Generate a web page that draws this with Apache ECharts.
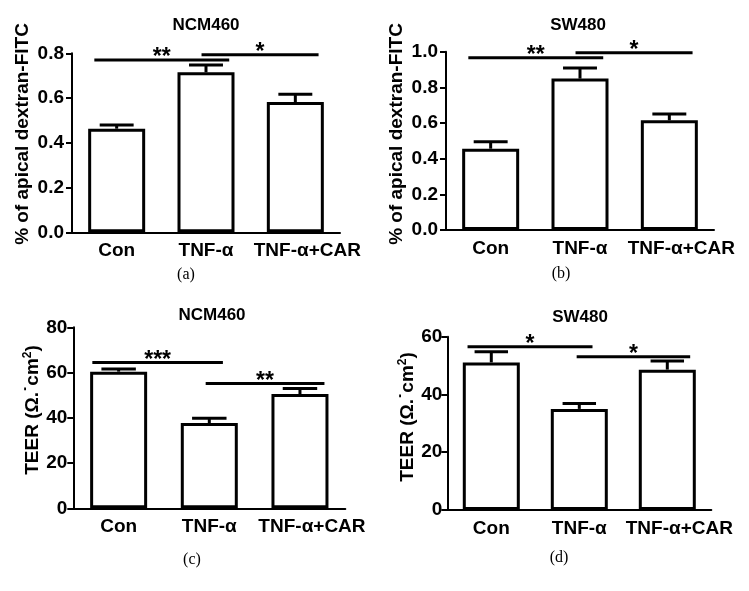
<!DOCTYPE html>
<html>
<head>
<meta charset="utf-8">
<script src="https://cdn.jsdelivr.net/npm/echarts@6/dist/echarts.min.js"></script>
<style>html,body{margin:0;padding:0;background:#fff;}#c{width:749px;height:591px;}</style>
</head>
<body>
<div id="c"></div>
<script>
const categories = ['Con', 'TNF-α', 'TNF-α+CAR'];
// Panel (a) NCM460 dextran-FITC
const meanA = [0.463, 0.715, 0.582];
const semA = [0.017, 0.033, 0.035];
// Panel (b) SW480 dextran-FITC
const meanB = [0.456, 0.849, 0.615];
const semB = [0.039, 0.060, 0.036];
// Panel (c) NCM460 TEER
const meanC = [60.4, 37.7, 50.5];
const semC = [1.2, 2.1, 2.5];
// Panel (d) SW480 TEER
const meanD = [51.1, 35.0, 48.6];
const semD = [3.7, 1.9, 3.0];
// significance brackets: [from (category pos), to (category pos), y value, label]
const sigA = [[-0.25, 1.26, 0.770, '**'], [0.95, 2.26, 0.794, '*']];
const sigB = [[-0.25, 1.26, 0.966, '**'], [0.95, 2.26, 0.994, '*']];
const sigC = [[-0.29, 1.15, 64.4, '***'], [0.96, 2.27, 55.2, '**']];
const sigD = [[-0.27, 1.15, 56.5, '*'], [0.97, 2.26, 53.1, '*']];
// y-axis ticks
const yTicksA = {max: 0.8, interval: 0.2};
const yTicksB = {max: 1.0, interval: 0.2};
const yTicksC = {max: 80, interval: 20};
const yTicksD = {max: 60, interval: 20};
const titles = ['NCM460', 'SW480', 'NCM460', 'SW480'];
const panelLabels = ['(a)', '(b)', '(c)', '(d)'];

const FF = "'Liberation Sans', Arial, sans-serif";

const panels = [
  {mean: meanA, sem: semA, sig: sigA, y: yTicksA, dec: 1, lm: 8, grid: {left: 72, top: 53.3, width: 268, height: 179}},
  {mean: meanB, sem: semB, sig: sigB, y: yTicksB, dec: 1, lm: 8, grid: {left: 446, top: 51.7, width: 268, height: 178.3}},
  {mean: meanC, sem: semC, sig: sigC, y: yTicksC, dec: 0, lm: 6, grid: {left: 73.3, top: 327.3, width: 272, height: 181}},
  {mean: meanD, sem: semD, sig: sigD, y: yTicksD, dec: 0, lm: 5, grid: {left: 447.3, top: 336.7, width: 264, height: 173.3}}
];

const grids = [], xAxes = [], yAxes = [], series = [];
panels.forEach((p, k) => {
  grids.push(p.grid);
  xAxes.push({
    type: 'category', gridIndex: k, boundaryGap: true,
    data: categories.map((c, i) => i === categories.length - 1 ? {value: c, textStyle: {padding: [0, 0, 0, 24]}} : c),
    axisLine: {lineStyle: {color: '#000', width: 2}},
    axisTick: {alignWithLabel: true, length: 6, lineStyle: {color: '#000', width: 2}},
    axisLabel: {color: '#000', fontFamily: FF, fontWeight: 'bold', fontSize: 19, margin: 9, interval: 0, hideOverlap: false}
  });
  yAxes.push({
    type: 'value', gridIndex: k, min: 0, max: p.y.max, interval: p.y.interval,
    splitLine: {show: false},
    axisLine: {show: true, lineStyle: {color: '#000', width: 2}},
    axisTick: {show: true, length: 6, lineStyle: {color: '#000', width: 2}},
    axisLabel: {color: '#000', fontFamily: FF, fontWeight: 'bold', fontSize: 19, margin: p.lm,
      formatter: v => v.toFixed(p.dec)}
  });
  series.push({
    type: 'bar', xAxisIndex: k, yAxisIndex: k, data: p.mean, barWidth: 57,
    itemStyle: {color: '#fff', borderColor: '#000', borderWidth: 3},
    z: 2, silent: true
  });
  series.push({
    type: 'custom', xAxisIndex: k, yAxisIndex: k, z: 3, silent: true, clip: false,
    data: p.mean.map((m, i) => [i, m, m + p.sem[i]]),
    renderItem: (params, api) => {
      const base = api.coord([api.value(0), api.value(1)]);
      const top = api.coord([api.value(0), api.value(2)]);
      const bw = api.size([1, 0])[0];
      const hw = bw * 0.19;
      return {type: 'group', children: [
        {type: 'line', shape: {x1: base[0], y1: base[1], x2: top[0], y2: top[1]}, style: {stroke: '#000', lineWidth: 3}},
        {type: 'line', shape: {x1: top[0] - hw, y1: top[1], x2: top[0] + hw, y2: top[1]}, style: {stroke: '#000', lineWidth: 3}}
      ]};
    }
  });
  series.push({
    type: 'custom', xAxisIndex: k, yAxisIndex: k, z: 4, silent: true, clip: false,
    data: p.sig.map(s => [0, s[2]]),
    renderItem: (params, api) => {
      const s = p.sig[params.dataIndex];
      const c0 = api.coord([0, api.value(1)]);
      const bw = api.size([1, 0])[0];
      const x1 = c0[0] + s[0] * bw, x2 = c0[0] + s[1] * bw;
      return {type: 'group', children: [
        {type: 'line', shape: {x1: x1, y1: c0[1], x2: x2, y2: c0[1]}, style: {stroke: '#000', lineWidth: 3}},
        {type: 'text', x: (x1 + x2) / 2, y: c0[1] - 2, style: {text: s[3], fill: '#000', fontFamily: FF, fontWeight: 'bold', fontSize: 23, align: 'center', verticalAlign: 'middle'}}
      ]};
    }
  });
});

const titlePos = [[206, 25], [578, 25], [212, 315], [580, 317]];
const yNamePos = [[23, 134], [397, 134], [33, 410], [408, 417]];
const labelPos = [[186, 275], [561, 274], [192, 560], [559, 558]];
const graphic = [];
titles.forEach((t, k) => {
  graphic.push({type: 'text', x: titlePos[k][0], y: titlePos[k][1],
    style: {text: t, fill: '#000', fontFamily: FF, fontWeight: 'bold', fontSize: 17, align: 'center', verticalAlign: 'middle'}});
  graphic.push({type: 'text', x: labelPos[k][0], y: labelPos[k][1],
    style: {text: panelLabels[k], fill: '#000', fontFamily: "'Liberation Serif', 'Times New Roman', serif", fontSize: 16, align: 'center', verticalAlign: 'middle'}});
});
const dexName = '% of apical dextran-FITC';
[0, 1].forEach(k => {
  graphic.push({type: 'text', x: yNamePos[k][0], y: yNamePos[k][1], rotation: Math.PI / 2,
    style: {text: dexName, fill: '#000', fontFamily: FF, fontWeight: 'bold', fontSize: 19, align: 'center', verticalAlign: 'middle'}});
});
[2, 3].forEach(k => {
  graphic.push({type: 'text', x: yNamePos[k][0], y: yNamePos[k][1], rotation: Math.PI / 2,
    style: {text: 'TEER (Ω.˙cm{sup|2})', fill: '#000', fontFamily: FF, fontWeight: 'bold', fontSize: 19, align: 'center', verticalAlign: 'middle',
      rich: {sup: {fontFamily: FF, fontWeight: 'bold', fontSize: 12, verticalAlign: 'top', padding: [0, 0, 10, 0], fill: '#000'}}}});
});

const chart = echarts.init(document.getElementById('c'), null, {renderer: 'canvas'});
chart.setOption({
  animation: false,
  backgroundColor: '#fff',
  grid: grids, xAxis: xAxes, yAxis: yAxes, series: series, graphic: graphic
});
</script>
</body>
</html>
